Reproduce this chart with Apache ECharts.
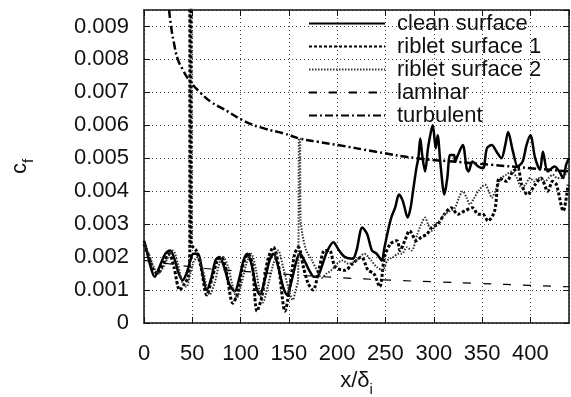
<!DOCTYPE html>
<html>
<head>
<meta charset="utf-8">
<script src="https://cdn.jsdelivr.net/npm/echarts@6/dist/echarts.min.js"></script>
<style>
  html, body { margin: 0; padding: 0; background: #fff; }
  #chart { width: 571px; height: 397px; }
</style>
</head>
<body>
<div id="chart"></div>
<script>
const seriesNames = ["clean surface", "riblet surface 1", "riblet surface 2", "laminar", "turbulent"];

const cleanData = [
  [0, 0.0025], [2, 0.0023], [6, 0.0018], [11, 0.0014], [16, 0.0017], [22, 0.0021], [27, 0.0022],
  [32, 0.0019], [36, 0.0015], [40, 0.0013], [44, 0.0015], [48, 0.0019], [51, 0.0021], [56, 0.0021],
  [60, 0.0016], [65, 0.001], [70, 0.0014], [74, 0.0019], [78, 0.002], [83, 0.0017], [88, 0.0012],
  [94, 0.00096], [99, 0.0014], [103, 0.0019], [107, 0.0021], [112, 0.0017], [116, 0.0011],
  [120, 0.00086], [125, 0.0013], [130, 0.0019], [134, 0.0021], [139, 0.0017], [144, 0.0011],
  [148, 0.00086], [153, 0.0013], [158, 0.0019], [161.5, 0.0021], [166, 0.0019], [171, 0.0016],
  [176, 0.0014], [180, 0.00142], [185, 0.0018], [190, 0.0022], [196, 0.00245], [202, 0.0022],
  [208, 0.002], [216, 0.00195], [220, 0.0022], [226, 0.0029], [231, 0.0027], [236, 0.0022],
  [241, 0.0021], [246, 0.0019], [249, 0.0023], [252.6, 0.0028], [256, 0.0032], [260, 0.0035],
  [264, 0.0039], [268, 0.0037], [273, 0.0032], [276, 0.0035], [278.5, 0.004], [282, 0.0047],
  [284, 0.005], [286, 0.0056], [288, 0.0051], [291, 0.0046], [294, 0.0053], [297, 0.0058],
  [299, 0.006], [302, 0.0053], [304, 0.0057], [307, 0.0048], [311, 0.0039], [314, 0.0044],
  [317, 0.0051], [321, 0.0051], [322, 0.0049], [325, 0.0051], [330, 0.0054], [334, 0.0047],
  [336, 0.0046], [340, 0.0049], [346, 0.00475], [351, 0.0047], [355, 0.0053], [360, 0.0054],
  [365, 0.0052], [370, 0.005], [374, 0.0054], [377, 0.0058], [382, 0.0052], [387, 0.00475],
  [392, 0.0049], [396, 0.0054], [400, 0.0057], [405, 0.005], [410, 0.00465], [413, 0.0052],
  [418, 0.0046], [425, 0.00475], [430, 0.0046], [434, 0.0044], [437, 0.0048], [440, 0.005]
];

const riblet1Data = [
  [0, 0.0024], [4, 0.0021], [10, 0.0016], [14, 0.0015], [20, 0.0018], [26, 0.0021], [31, 0.0017],
  [37, 0.001], [42, 0.0012], [46, 0.0014], [47.4, 0.0022], [47.6, 0.0105], [48.6, 0.0105],
  [48.8, 0.0024], [54, 0.0022], [59, 0.0017], [65, 0.00085], [70, 0.0013], [76, 0.0019],
  [80, 0.002], [85, 0.0016], [92, 0.0006], [97, 0.0009], [102, 0.0017], [108, 0.0021],
  [112, 0.0018], [117, 0.00036], [122, 0.0008], [128, 0.0019], [134, 0.0023], [139, 0.0018],
  [146, 0.00036], [151, 0.0011], [156, 0.0021], [160, 0.0023], [165, 0.0017], [170, 0.0012],
  [175, 0.001], [181, 0.0016], [187, 0.0022], [192, 0.0022], [198, 0.0017], [208, 0.0016],
  [216, 0.0018], [225, 0.002], [232, 0.0016], [238, 0.0015], [244, 0.0011], [249, 0.002],
  [255, 0.0024], [262, 0.0025], [265, 0.0022], [270, 0.0025], [275, 0.0028], [282, 0.0025],
  [287, 0.0026], [293, 0.0027], [298, 0.0029], [304, 0.003], [311, 0.0033], [318, 0.0035],
  [325, 0.0033], [332, 0.0034], [340, 0.0035], [346, 0.0033], [351, 0.0033], [356, 0.0031],
  [363, 0.0034], [368, 0.0044], [375, 0.0043], [382, 0.0046], [387, 0.0047], [391, 0.0042],
  [397, 0.0039], [405, 0.0042], [411, 0.0044], [418, 0.004], [423, 0.0043], [427, 0.0042],
  [434, 0.0034], [439, 0.0042]
];

const riblet2Data = [
  [0, 0.0024], [5, 0.0021], [10, 0.0017], [14.5, 0.0015], [20, 0.0017], [25, 0.002], [30, 0.0022],
  [35, 0.0018], [40, 0.0012], [44, 0.0011], [48, 0.0015], [52, 0.0019], [56, 0.002], [61, 0.0016],
  [68, 0.00086], [73, 0.0012], [78, 0.0018], [82, 0.002], [87, 0.0017], [92, 0.0011], [96, 0.00076],
  [101, 0.0012], [106, 0.0018], [111, 0.0021], [116, 0.0016], [120, 0.0009], [123, 0.00062],
  [128, 0.0011], [134, 0.0018], [139, 0.0022], [144, 0.0017], [150, 0.001], [154, 0.0007],
  [157, 0.001], [159.5, 0.0013], [160.5, 0.0056], [161.5, 0.0056], [162, 0.0032], [164, 0.0027],
  [168, 0.0022], [174, 0.0019], [179, 0.0016], [184, 0.00137], [189, 0.0015], [194, 0.0016],
  [200, 0.0018], [205, 0.0019], [212, 0.0018], [220, 0.0019], [228, 0.0021], [235, 0.0019],
  [241, 0.0017], [247, 0.0016], [252, 0.0019], [258, 0.002], [263, 0.0021], [267, 0.0021],
  [272, 0.0023], [277, 0.0022], [283, 0.0027], [287, 0.003], [291, 0.0032], [294, 0.003],
  [298, 0.0028], [302, 0.003], [306, 0.0031], [311, 0.0033], [317, 0.0034], [322, 0.0035],
  [326, 0.0038], [330, 0.004], [334, 0.0038], [337.5, 0.0036], [342, 0.0038], [346, 0.004],
  [353, 0.0042], [357, 0.004], [360, 0.0038], [365, 0.0041], [370, 0.0044], [375, 0.0045],
  [380.6, 0.0046], [386, 0.0044], [391, 0.0041], [395, 0.0042], [399.6, 0.0044], [404, 0.0043],
  [408, 0.0044], [415, 0.0043], [419, 0.0044], [423, 0.0045], [428, 0.0044], [432, 0.0044],
  [436, 0.0045], [439, 0.0047]
];

const laminarData = [
  [0, 0.0019], [25, 0.0018], [56, 0.00168], [88, 0.0016], [125, 0.00152], [161, 0.00145],
  [200, 0.00138], [256, 0.0013], [300, 0.00125], [348, 0.0012], [400, 0.00114], [440, 0.0011]
];

const turbulentData = [
  [26, 0.0095], [28, 0.009], [31, 0.0085], [35, 0.008], [40, 0.0077], [46, 0.0074], [58, 0.007],
  [70, 0.0067], [82, 0.0065], [106, 0.0061], [125, 0.0059], [144, 0.00576], [161, 0.0056],
  [180, 0.0055], [201, 0.0054], [240, 0.0052], [282, 0.005], [320, 0.0049], [360, 0.0048],
  [400, 0.0047], [440, 0.0046]
];

const xTicks = { min: 0, max: 440, interval: 50 };
const yTicks = { min: 0, max: 0.0095, interval: 0.001 };

const font = "'Liberation Sans', Arial, sans-serif";
const ink = "#111";
const subStyle = { fontFamily: font, fontSize: 15, color: ink, lineHeight: 32, verticalAlign: "bottom" };

const chart = echarts.init(document.getElementById("chart"), null, {
  width: 571,
  height: 397,
});

function frameAxis(pos, ticks) {
  return {
    type: "value",
    position: pos,
    min: ticks.min,
    max: ticks.max,
    interval: ticks.interval,
    axisLine: { show: true, onZero: false, lineStyle: { color: ink, width: 1.5 } },
    axisTick: { show: true, inside: true, length: 6, lineStyle: { color: ink, width: 1 } },
    axisLabel: { show: false },
    splitLine: { show: false },
  };
}

const bottomAxis = frameAxis("bottom", xTicks);
bottomAxis.axisLabel = {
  show: true,
  showMaxLabel: false,
  margin: 20,
  fontFamily: font,
  fontSize: 22,
  color: ink,
};
bottomAxis.splitLine = { show: true, lineStyle: { color: "#444", width: 1, type: [1, 3] } };
bottomAxis.name = "x/δ{s|i}";
bottomAxis.nameLocation = "middle";
bottomAxis.nameGap = 42;
bottomAxis.nameTextStyle = { fontFamily: font, fontSize: 22, color: ink, rich: { s: subStyle } };

const leftAxis = frameAxis("left", yTicks);
leftAxis.axisLabel = {
  show: true,
  showMaxLabel: false,
  margin: 15,
  fontFamily: font,
  fontSize: 22,
  color: ink,
  formatter: (v) => String(parseFloat(v.toFixed(4))),
};
leftAxis.splitLine = { show: true, lineStyle: { color: "#444", width: 1, type: [1, 3] } };
leftAxis.name = "c{s|f}";
leftAxis.nameLocation = "middle";
leftAxis.nameRotate = 90;
leftAxis.nameGap = 108;
leftAxis.nameTextStyle = { fontFamily: font, fontSize: 22, color: ink, rich: { s: subStyle } };

const option = {
  animation: false,
  backgroundColor: "#fff",
  grid: { left: 144, right: 2, top: 10, bottom: 74, containLabel: false, outerBoundsMode: "none" },
  legend: {
    orient: "vertical",
    left: 303,
    top: 7,
    itemWidth: 76,
    itemHeight: 14,
    itemGap: 0,
    itemStyle: { opacity: 0 },
    textStyle: { fontFamily: font, fontSize: 22, color: ink, lineHeight: 23, padding: [0, 0, 0, 7] },
    data: seriesNames,
  },
  xAxis: [bottomAxis, frameAxis("top", xTicks)],
  yAxis: [leftAxis, frameAxis("right", yTicks)],
  series: [
    {
      name: seriesNames[0],
      type: "line",
      data: cleanData,
      symbol: "none",
      smooth: 0.3,
      lineStyle: { color: "#000", width: 2.5, type: "solid" },
      itemStyle: { color: "#000" },
    },
    {
      name: seriesNames[1],
      type: "line",
      data: riblet1Data,
      symbol: "none",
      smooth: 0.3,
      lineStyle: { color: "#000", width: 3, type: [3, 2] },
      itemStyle: { color: "#000" },
    },
    {
      name: seriesNames[2],
      type: "line",
      data: riblet2Data,
      symbol: "none",
      smooth: 0.3,
      lineStyle: { color: "#333", width: 2, type: [1.5, 1.5] },
      itemStyle: { color: "#333" },
    },
    {
      name: seriesNames[3],
      type: "line",
      data: laminarData,
      symbol: "none",
      smooth: true,
      lineStyle: { color: "#000", width: 1.2, type: [8, 12] },
      itemStyle: { color: "#000" },
    },
    {
      name: seriesNames[4],
      type: "line",
      data: turbulentData,
      symbol: "none",
      smooth: true,
      lineStyle: { color: "#000", width: 2.5, type: [8, 3, 2, 3] },
      itemStyle: { color: "#000" },
    },
  ],
};

chart.setOption(option);
</script>
</body>
</html>
